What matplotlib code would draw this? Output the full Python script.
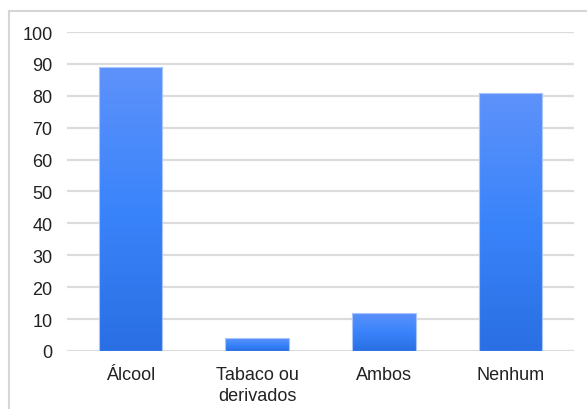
import numpy as np
import matplotlib.pyplot as plt
from matplotlib.colors import LinearSegmentedColormap
from matplotlib.lines import Line2D

plt.rcParams['font.family'] = ['Liberation Sans', 'DejaVu Sans']

# data
categorias = ['Álcool', 'Tabaco ou\nderivados', 'Ambos', 'Nenhum']
valores = [89, 4, 12, 81]
yticks = list(range(0, 101, 10))

fig = plt.figure(figsize=(5.87, 4.10), dpi=100)
ax = fig.add_axes([0.1141, 0.1415, 0.8637, 0.778])

x = np.arange(len(categorias))
largura = 0.5

# gradient fill, light blue at the top, deeper blue at the base
cmap = LinearSegmentedColormap.from_list('azul', ['#2a6fe3', '#3a84fb', '#5e92fa'])
grad = np.linspace(0, 1, 256).reshape(-1, 1)

barras = ax.bar(x, valores, width=largura, color='none',
                edgecolor='#a9c5fb', linewidth=0.8, zorder=3)
for b in barras:
    x0, y0 = b.get_x(), b.get_y()
    w, h = b.get_width(), b.get_height()
    im = ax.imshow(grad, extent=[x0, x0 + w, y0, y0 + h], origin='lower',
                   cmap=cmap, aspect='auto', zorder=2)
    im.set_clip_path(b)

ax.set_xlim(-0.5, len(categorias) - 0.5)
ax.set_ylim(0, 100)
ax.set_yticks(yticks)
ax.set_xticks(x)
ax.set_xticklabels(categorias, linespacing=1.3)

ax.grid(axis='y', color='#dcdcdc', linewidth=1.6, zorder=0)
ax.set_axisbelow(True)
for s in ax.spines.values():
    s.set_visible(False)
ax.tick_params(axis='both', length=0, labelsize=13, colors='#222222')
ax.tick_params(axis='y', pad=10.5)
ax.tick_params(axis='x', pad=11)

# outer frame, only top and left edges are visible
fig.add_artist(Line2D([8.5 / 587, 8.5 / 587], [0, 1 - 11.5 / 410],
                      transform=fig.transFigure, color='#d6d6d6', linewidth=1.5))
fig.add_artist(Line2D([8.5 / 587, 1], [1 - 11.5 / 410, 1 - 11.5 / 410],
                      transform=fig.transFigure, color='#d6d6d6', linewidth=1.5))

fig.savefig('out.png', dpi=100)
